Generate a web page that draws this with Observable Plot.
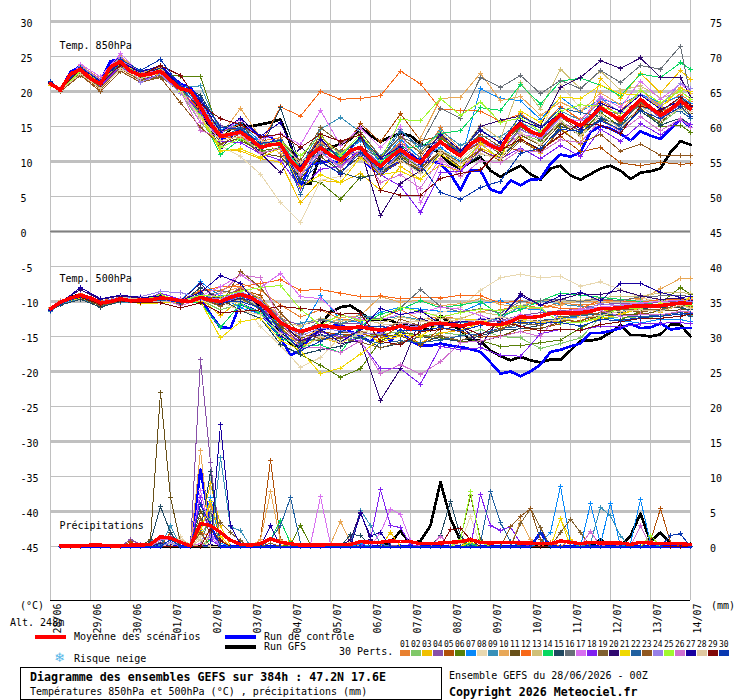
<!DOCTYPE html>
<html><head><meta charset="utf-8">
<script src="https://cdn.jsdelivr.net/npm/d3@7"></script>
<script src="https://cdn.jsdelivr.net/npm/@observablehq/plot@0.6"></script>
<style>
body{margin:0;background:#fff;font-family:"DejaVu Sans Mono",monospace;font-size:10px;color:#000;width:740px;height:700px;position:relative;overflow:hidden}
.a{position:absolute;white-space:pre;line-height:12px;color:#000}
.s{position:absolute}
.b{font-weight:bold;font-size:11.6px}
svg{display:block}
</style></head><body>
<div id="chart"></div>
<script>
const dayLabels=["28/06","29/06","30/06","01/07","02/07","03/07","04/07","05/07","06/07","07/07","08/07","09/07","10/07","11/07","12/07","13/07","14/07"];
const dayHours=[0,24,48,72,96,120,144,168,192,216,240,264,288,312,336,360,384];
const thinLevels=[25,15,5,-5,-15,-25,-35,-45];
const thickLevels=[30,20,10,-10,-20,-30,-40];
const leftTicks=[30,25,20,15,10,5,0,-5,-10,-15,-20,-25,-30,-35,-40,-45];
const pertColors=["#e88030","#80c868","#f0c000","#8850a8","#b05008","#588008","#0888f8","#e8d8b0","#3890b8","#e8a858","#685018","#f86818","#d0c078","#08d860","#204860","#687078","#d870f0","#8020f0","#806030","#300870","#f0d800","#2060a0","#905820","#9880e8","#a0f830","#d070d0","#1800a0","#e0c8a0","#800808","#0838b0"];
// 6-hourly step numbers at which the members are read
const memberSteps=[0,1,3,5,7,9,11,13,15,17,19,21,23,25,27,29,31,33,35,37,39,41,43,45,47,49,51,53,55,57,59,61,63,64];

const mean850=[21.1,20.2,22.5,23.2,21.8,21.1,23.5,24.3,22.9,22.3,22.5,22.9,21.6,20.4,20.1,17.8,15.4,13.6,13.9,14.2,13.2,12.0,12.4,12.5,10.1,8.7,10.9,12.0,10.9,10.2,11.6,12.0,10.4,9.3,10.6,11.7,10.6,9.8,11.6,12.8,11.7,10.8,12.5,13.3,12.3,11.7,14.2,15.4,14.3,13.7,15.4,16.7,15.8,15.1,16.3,17.7,16.8,15.9,17.5,18.9,17.7,16.6,17.4,18.7,17.5];
const control850=[21.3,20.2,22.8,23.6,22.3,21.6,24.3,24.7,23.2,22.9,23.0,23.6,22.3,21.1,20.5,18.7,16.3,13.2,13.7,14.7,14.7,13.5,13.6,12.0,9.2,6.3,9.7,9.8,10.1,9.7,11.3,10.6,9.2,8.2,9.2,10.1,10.9,9.8,10.1,9.7,8.2,5.9,8.7,8.7,6.0,5.5,7.3,6.6,7.4,7.5,9.7,11.0,10.7,11.3,14.2,15.1,14.7,14.0,13.0,14.3,13.7,13.2,14.7,16.1,14.9];
const gfs850=[21.2,20.2,22.6,23.0,21.9,21.0,23.6,24.2,22.8,22.4,22.4,23.0,21.5,20.3,20.0,17.2,14.8,13.1,14.6,15.4,15.0,15.3,15.6,16.0,12.5,7.0,6.8,11.0,12.0,12.5,13.2,14.9,13.7,12.8,13.5,14.0,13.7,12.5,12.0,11.1,9.7,9.0,9.9,10.6,8.7,7.8,8.7,9.4,8.2,7.4,9.0,9.4,8.0,7.4,8.2,9.0,9.4,8.7,7.5,8.4,8.6,9.0,11.3,12.9,12.4];

const mean500=[-11.05,-10.1,-9.5,-9.1,-9.5,-10.2,-10,-9.6,-9.9,-9.8,-9.8,-9.5,-9.6,-9.9,-10,-9.4,-9.8,-10,-9.4,-9,-9.4,-10.3,-11.5,-13,-13.8,-14.3,-13.9,-13.4,-13.6,-13.8,-13.8,-13.6,-13.9,-14.1,-13.9,-13.5,-13.9,-13.8,-13.2,-13.1,-13.3,-13.5,-13.2,-13,-13.3,-13.3,-12.9,-12.2,-12.3,-12.1,-11.7,-11.6,-11.6,-11.6,-11.4,-11,-11,-10.9,-10.7,-10.6,-10.6,-10.6,-10.4,-10.2,-10.3];
const control500=[-11.2,-10.2,-9.6,-9.2,-9.7,-10.3,-10.1,-9.5,-9.8,-9.9,-9.7,-9.6,-9.7,-10,-9.9,-9.5,-11.8,-13.7,-13.8,-10.3,-11,-11.6,-13.4,-15.1,-17.7,-17,-15.1,-14,-13.6,-13.2,-14.3,-14.9,-15.8,-14.1,-15.6,-14.1,-15.6,-16.3,-16.3,-16,-16.3,-16.5,-16.8,-17.2,-18.7,-20.3,-20,-20.7,-20,-19,-17.2,-16.9,-16.4,-16,-14.5,-14.5,-14.2,-13.8,-13.2,-13.8,-13.7,-13.1,-14,-13.8,-13.8];
const gfs500=[-11.1,-10.1,-9.4,-9,-9.5,-10.2,-9.9,-9.6,-9.9,-9.8,-9.7,-9.5,-9.7,-9.9,-10,-9.3,-9.7,-10.1,-9.3,-8.8,-9.5,-10.6,-12,-14.5,-16,-16.5,-15,-13.4,-11.5,-10.8,-10.6,-11.5,-12.7,-12.5,-12.7,-13.4,-13.5,-13.7,-14.1,-12,-13.2,-14.1,-15.6,-15.6,-17,-17.8,-18.4,-17.9,-18.4,-18.7,-18.3,-18.3,-17,-15.6,-15.6,-15.3,-14.4,-13.4,-14.8,-14.8,-15,-14.7,-13.3,-13.3,-15];

const t850p01=[21.0,20.4,23.7,21.8,24.9,22.6,23.0,20.6,17.5,14.3,15.3,12.9,13.4,9.3,12.8,11.3,13.1,9.9,12.8,10.6,14.8,11.6,14.5,12.6,16.6,14.8,17.9,16.0,18.6,17.2,20.2,17.9,19.6,18.6];
const t850p02=[21.0,20.1,22.9,20.9,23.7,22.0,22.6,19.9,15.6,12.5,13.4,11.3,11.8,8.1,11.2,9.4,11.3,8.6,10.9,8.9,11.7,9.8,12.5,10.4,14.0,12.9,15.9,13.6,16.1,14.5,17.5,15.4,17.6,16.5];
const t850p03=[20.9,20.2,23.0,21.0,24.0,22.4,22.4,20.0,16.8,11.6,11.5,10.4,9.9,4.1,7.3,7.0,8.3,5.9,9.3,7.5,9.5,8.6,11.9,10.6,13.4,11.2,14.8,12.4,21.9,19.0,22.6,19.8,23.0,21.7];
const t850p04=[21.2,20.3,23.4,21.4,24.6,22.4,23.2,20.9,18.9,15.1,14.7,12.7,12.6,9.1,11.5,10.0,12.2,9.6,12.5,10.1,13.5,11.0,12.9,11.1,14.6,13.2,15.6,14.4,17.4,15.7,18.5,16.2,18.1,17.2];
const t850p05=[21.1,20.0,22.4,20.3,23.2,21.6,22.3,19.8,17.7,13.6,13.4,11.8,13.2,9.6,13.4,11.4,15.4,12.8,16.8,13.0,13.6,11.0,12.7,12.3,11.5,11.7,13.6,11.4,12.0,9.8,9.4,9.9,9.6,9.7];
const t850p06=[21.2,20.2,23.1,21.2,24.1,22.5,22.3,22.2,22.2,13.6,13.0,11.5,12.0,7.4,7.0,4.6,7.8,8.2,11.0,9.0,13.3,11.5,13.5,11.0,15.0,13.0,15.5,14.0,17.0,15.0,17.7,15.0,15.2,14.2];
const t850p07=[21.2,20.3,23.3,21.5,24.5,22.9,23.3,20.6,18.3,14.5,15.5,12.8,12.9,7.9,11.2,10.6,13.0,9.9,13.2,10.4,12.0,10.0,20.4,19.0,18.7,16.0,19.2,17.1,18.9,18.2,19.6,18.4,19.3,18.3];
const t850p08=[21.0,20.3,23.0,20.6,23.0,21.4,22.2,19.9,16.2,12.3,10.7,8.2,4.1,1.3,7.3,7.9,10.4,8.3,10.6,9.0,11.6,10.4,12.6,11.4,17.0,14.0,21.0,17.6,17.9,16.0,20.4,17.2,19.0,18.0];
const t850p09=[21.1,20.2,23.2,21.2,24.2,22.2,22.7,20.6,20.8,14.2,14.9,12.6,12.2,9.2,14.6,16.3,14.2,10.7,14.6,11.6,14.4,12.3,13.6,13.5,15.6,14.2,17.2,15.9,17.2,16.8,17.8,17.0,19.2,17.4];
const t850p10=[21.0,20.5,23.8,21.6,25.1,22.6,23.5,20.3,17.1,13.7,17.6,13.4,11.1,8.0,12.8,9.7,11.4,8.9,10.5,13.3,19.0,19.2,22.6,18.7,19.3,16.6,18.5,17.1,19.8,18.1,19.5,18.2,20.6,19.7];
const t850p11=[21.1,20.1,22.7,20.7,23.4,21.7,22.4,20.1,17.2,12.6,13.3,11.2,10.7,7.6,10.7,8.6,10.7,8.2,10.8,8.6,11.4,9.2,11.6,10.4,13.8,12.3,15.4,13.7,16.1,14.4,17.4,15.6,17.9,16.8];
const t850p12=[21.2,20.3,23.2,21.2,24.5,22.1,22.6,20.2,17.3,13.5,13.5,12.4,17.8,16.5,20.0,18.9,19.0,19.4,22.9,21.1,17.5,17.3,17.2,15.7,16.8,14.8,17.9,15.9,18.5,16.4,18.1,17.0,18.5,17.7];
const t850p13=[21.1,20.2,23.3,21.3,24.4,22.3,23.2,20.5,18.7,13.9,14.4,12.4,13.1,9.5,13.0,11.2,13.3,10.6,13.4,11.4,14.2,11.4,15.2,13.2,21.3,17.5,23.2,20.4,22.9,20.2,20.8,19.1,19.9,19.1];
const t850p14=[21.0,20.2,23.5,21.4,24.2,22.4,22.9,20.2,16.6,11.0,13.2,12.2,13.0,8.9,12.2,10.7,13.6,10.0,12.0,12.1,14.0,14.4,17.7,17.3,21.0,18.2,21.5,21.9,20.9,19.4,22.5,22.0,24.1,23.2];
const t850p15=[21.2,20.3,23.1,21.2,24.1,22.1,22.8,20.5,19.5,14.8,15.6,11.7,17.7,9.4,11.7,8.4,7.6,8.3,10.4,8.5,11.1,9.0,11.0,10.6,13.2,11.7,15.0,14.2,16.1,15.3,17.2,15.2,16.2,15.3];
const t850p16=[21.1,20.2,23.0,21.0,24.1,22.1,22.6,20.3,18.0,13.4,14.1,12.4,13.2,9.8,12.4,11.5,12.1,10.4,13.5,12.3,17.6,16.2,22.0,20.6,22.3,19.7,21.6,20.4,23.0,21.3,23.7,23.2,26.5,19.2];
const t850p17=[21.1,20.4,23.9,22.1,25.4,22.6,22.9,20.3,15.6,14.0,16.0,13.1,14.0,12.4,17.3,12.3,14.8,12.0,15.0,4.1,9.8,8.7,12.4,11.6,13.9,13.4,16.2,15.8,19.3,17.7,21.5,18.9,21.1,20.0];
const t850p18=[21.0,20.2,22.8,20.8,23.6,21.6,22.4,20.0,17.0,12.9,12.7,11.1,10.2,6.2,8.9,9.3,11.8,8.1,6.5,2.7,8.4,8.6,11.6,10.4,11.9,10.4,12.3,10.7,14.6,12.9,15.4,13.8,15.9,15.3];
const t850p19=[21.1,20.1,22.6,20.6,23.4,21.6,22.1,20.1,18.0,14.4,14.7,11.8,12.8,10.1,14.8,12.7,14.2,10.6,13.6,11.2,13.7,11.3,13.9,12.1,15.1,13.6,16.4,14.3,18.0,15.4,18.4,16.6,18.2,17.2];
const t850p20=[21.2,20.4,23.4,21.3,24.3,22.4,23.3,20.6,17.6,11.8,14.8,11.2,8.4,12.0,10.1,8.2,11.8,2.3,6.9,8.7,12.9,11.2,15.0,15.9,16.5,15.1,20.6,22.0,24.4,23.3,24.8,22.0,22.0,19.2];
const t850p21=[21.0,20.3,23.3,21.2,24.4,22.3,22.8,20.1,16.4,11.5,11.8,10.6,11.9,6.4,8.1,7.0,10.6,8.1,8.6,7.4,11.1,9.1,12.6,10.2,17.2,15.6,19.2,19.0,20.9,19.7,19.5,17.7,20.4,20.0];
const t850p22=[21.3,20.2,23.2,21.1,23.9,22.4,23.1,20.4,17.8,13.4,14.8,12.1,12.4,5.3,12.1,11.0,13.2,10.3,14.3,12.1,12.9,11.5,14.6,12.6,16.6,14.8,17.6,17.0,16.4,15.0,18.9,16.9,17.2,16.2];
const t850p23=[21.0,20.0,22.3,20.0,22.9,21.3,22.0,18.4,14.9,12.4,14.0,11.1,11.9,8.8,14.0,9.8,11.3,8.2,10.0,9.0,11.5,9.8,11.7,10.1,13.0,11.3,14.5,12.6,13.9,11.5,12.5,10.9,10.8,10.9];
const t850p24=[21.1,20.3,23.6,21.7,24.9,21.3,22.5,19.7,18.4,13.4,13.9,12.3,12.5,8.8,11.4,9.3,11.0,8.4,11.2,9.2,12.6,10.9,13.3,12.0,14.5,13.3,16.3,15.2,19.0,17.0,19.6,17.9,21.2,20.4];
const t850p25=[21.0,20.1,22.9,21.0,23.9,22.1,23.1,20.0,16.5,12.0,13.3,11.8,12.8,10.8,13.7,10.9,13.9,10.2,16.0,15.8,19.0,16.6,18.5,15.6,16.2,14.3,17.2,18.1,17.9,16.8,20.2,18.4,20.1,18.9];
const t850p26=[21.1,20.4,23.5,21.6,24.7,22.6,23.0,20.1,14.4,13.5,13.9,11.2,11.9,8.0,11.3,9.1,11.6,7.0,8.1,6.2,10.5,7.8,10.1,9.8,11.7,11.3,13.1,12.7,15.9,14.3,16.4,14.4,16.1,14.9];
const t850p27=[21.3,20.3,23.4,21.5,24.2,22.8,23.7,20.7,18.7,14.2,16.2,13.6,15.6,9.3,13.2,10.3,13.5,10.5,12.1,10.2,13.9,11.6,14.4,12.7,15.9,14.8,16.9,14.6,18.3,17.2,19.5,17.5,18.6,17.8];
const t850p28=[21.0,20.2,22.5,20.4,23.3,21.8,22.7,20.2,16.3,13.0,13.6,12.9,12.7,9.9,11.7,10.2,11.7,8.9,10.2,8.3,11.3,9.7,11.1,10.4,14.1,12.4,15.8,13.6,16.7,14.7,17.9,15.9,17.6,17.1];
const t850p29=[21.1,20.3,23.2,21.0,23.8,22.3,23.7,22.3,18.2,16.1,15.3,13.5,13.9,12.0,13.9,12.9,13.8,5.9,5.2,5.2,7.6,8.3,8.8,11.6,13.2,11.6,13.8,15.4,15.2,14.0,17.9,17.2,19.2,18.0];
const t850p30=[21.4,20.3,23.5,21.4,24.6,23.0,24.6,20.7,19.0,14.9,14.6,12.6,13.0,7.0,9.9,8.3,11.3,8.8,11.3,9.6,5.6,4.6,6.3,7.2,11.2,11.9,14.6,14.3,15.8,14.6,17.3,16.1,17.8,16.5];
const members850=[t850p01,t850p02,t850p03,t850p04,t850p05,t850p06,t850p07,t850p08,t850p09,t850p10,t850p11,t850p12,t850p13,t850p14,t850p15,t850p16,t850p17,t850p18,t850p19,t850p20,t850p21,t850p22,t850p23,t850p24,t850p25,t850p26,t850p27,t850p28,t850p29,t850p30];

const t500p01=[-10.9,-9.9,-8.9,-9.9,-9.4,-9.5,-9.4,-9.8,-8.4,-8.4,-7.4,-8.4,-10.5,-12.2,-11.2,-12.5,-12.8,-12.4,-11.2,-12.6,-12.1,-12.5,-11.4,-11.2,-10.5,-10.9,-10.2,-10.5,-10.3,-9.8,-9.5,-10.0,-9.7,-9.6];
const t500p02=[-11.1,-10.2,-9.4,-10.4,-9.7,-10.0,-9.7,-10.0,-9.8,-11.2,-10.3,-11.6,-14.0,-15.8,-15.4,-15.6,-15.2,-14.7,-14.3,-15.1,-14.4,-14.8,-14.0,-15.0,-15.2,-16.7,-16.0,-15.2,-12.3,-12.2,-12.4,-12.1,-11.5,-12.0];
const t500p03=[-11.0,-10.1,-9.3,-10.3,-9.7,-9.9,-9.6,-9.7,-9.6,-12.0,-9.7,-10.9,-13.6,-16.5,-15.1,-16.0,-14.3,-15.8,-14.9,-15.9,-14.5,-14.1,-13.1,-13.6,-12.9,-13.0,-12.8,-12.0,-11.1,-11.7,-11.1,-11.5,-10.5,-10.9];
const t500p04=[-11.2,-10.3,-9.2,-10.4,-9.6,-9.7,-9.3,-10.1,-9.7,-9.8,-8.0,-9.8,-12.4,-13.4,-12.7,-13.1,-13.2,-13.9,-13.0,-13.5,-13.3,-12.8,-13.0,-12.7,-12.0,-11.6,-11.3,-11.1,-10.4,-10.3,-10.4,-10.1,-9.9,-10.1];
const t500p05=[-11.1,-10.2,-9.0,-10.3,-9.8,-10.0,-9.7,-9.8,-9.5,-9.4,-8.3,-9.1,-13.4,-15.9,-14.3,-14.7,-14.6,-15.3,-13.4,-16.3,-13.8,-14.3,-15.1,-14.9,-14.3,-13.8,-13.2,-12.7,-11.9,-12.1,-11.7,-12.2,-11.4,-11.7];
const t500p06=[-11.0,-10.0,-9.0,-10.5,-9.5,-10.1,-9.3,-9.8,-8.6,-10.6,-8.9,-9.5,-13.8,-17.6,-19.1,-20.8,-19.6,-15.6,-14.4,-14.8,-15.2,-15.7,-15.6,-16.4,-16.3,-15.9,-15.5,-13.8,-12.3,-12.6,-11.4,-10.2,-8.0,-9.0];
const t500p07=[-11.2,-10.2,-9.1,-10.1,-9.4,-9.6,-9.5,-9.9,-7.2,-9.2,-10.9,-11.8,-13.1,-14.2,-9.2,-12.6,-13.0,-11.5,-10.8,-11.1,-11.4,-11.5,-10.3,-9.9,-11.0,-11.2,-12.3,-12.3,-12.1,-12.7,-13.1,-12.5,-12.6,-12.9];
const t500p08=[-11.1,-10.0,-9.6,-10.6,-9.3,-9.3,-9.8,-9.8,-9.9,-10.5,-9.9,-13.6,-16.3,-19.4,-18.0,-15.0,-14.7,-13.4,-13.1,-12.7,-11.6,-10.8,-8.4,-6.6,-6.1,-6.6,-6.4,-7.8,-7.2,-8.3,-9.4,-10.1,-9.5,-9.6];
const t500p09=[-11.4,-10.4,-9.6,-10.6,-10.1,-10.2,-9.6,-10.1,-9.2,-10.5,-9.4,-11.2,-13.6,-13.1,-12.5,-13.2,-11.9,-12.5,-12.1,-12.6,-13.6,-13.0,-13.0,-12.4,-10.7,-9.9,-10.4,-10.7,-10.9,-11.4,-11.1,-11.3,-10.6,-11.5];
const t500p10=[-10.9,-9.9,-8.9,-10.1,-9.6,-9.7,-9.5,-9.6,-9.3,-8.9,-7.9,-9.6,-12.1,-15.4,-13.9,-12.3,-12.0,-9.3,-10.1,-9.8,-10.6,-10.3,-9.6,-10.4,-10.9,-11.0,-10.5,-9.9,-10.1,-10.0,-9.7,-8.2,-6.7,-6.7];
const t500p11=[-11.1,-10.1,-9.5,-10.6,-9.8,-10.1,-9.8,-10.0,-9.6,-10.6,-9.5,-11.1,-13.6,-15.1,-15.6,-14.4,-14.4,-14.9,-14.9,-16.1,-14.9,-15.8,-15.7,-15.0,-13.8,-13.9,-12.9,-13.0,-12.0,-11.9,-11.9,-11.3,-11.2,-11.1];
const t500p12=[-11.0,-10.0,-8.9,-10.3,-9.7,-9.6,-9.3,-9.8,-8.5,-7.9,-7.9,-7.4,-6.9,-8.4,-8.3,-8.8,-9.3,-9.2,-9.6,-9.4,-9.5,-9.1,-9.2,-10.2,-9.9,-10.5,-11.0,-11.0,-9.8,-9.9,-10.1,-9.7,-9.8,-9.7];
const t500p13=[-11.0,-10.2,-9.2,-10.1,-9.4,-9.7,-9.4,-9.8,-9.3,-10.2,-9.3,-10.8,-12.9,-13.5,-12.4,-12.8,-12.6,-13.1,-12.2,-12.8,-12.4,-12.4,-11.5,-12.0,-10.6,-9.8,-10.0,-9.9,-9.4,-9.3,-9.2,-8.8,-8.7,-8.9];
const t500p14=[-11.1,-10.2,-9.3,-10.4,-9.9,-10.1,-9.6,-10.2,-10.2,-13.7,-10.4,-11.7,-15.2,-16.4,-16.2,-17.3,-13.5,-11.8,-11.1,-9.9,-10.9,-10.5,-10.0,-12.0,-11.2,-9.9,-8.8,-9.1,-9.4,-9.7,-10.0,-10.6,-10.1,-10.3];
const t500p15=[-11.3,-10.5,-9.7,-10.8,-10.0,-10.2,-9.7,-10.3,-8.0,-9.6,-11.3,-12.4,-16.1,-17.6,-16.9,-16.4,-15.0,-16.6,-16.0,-15.0,-15.4,-15.6,-14.9,-14.1,-13.9,-13.4,-12.4,-12.0,-11.8,-11.5,-11.0,-10.8,-10.9,-11.2];
const t500p16=[-11.0,-10.1,-9.1,-10.2,-9.5,-9.8,-9.5,-9.7,-9.4,-8.5,-8.9,-10.0,-12.4,-14.9,-12.6,-13.3,-12.3,-12.4,-10.9,-8.3,-10.7,-11.5,-11.0,-11.6,-10.0,-9.8,-9.7,-10.0,-9.6,-9.9,-9.3,-9.2,-9.1,-9.3];
const t500p17=[-11.1,-10.2,-9.0,-10.1,-9.5,-9.9,-9.3,-9.6,-9.2,-7.9,-6.2,-8.0,-6.0,-9.3,-9.6,-11.9,-12.5,-12.6,-11.8,-11.6,-10.8,-11.1,-12.0,-13.0,-11.9,-12.1,-11.6,-11.2,-10.8,-10.5,-10.2,-10.0,-9.8,-9.9];
const t500p18=[-11.1,-10.1,-9.3,-10.5,-9.6,-10.0,-8.8,-9.7,-9.7,-10.3,-9.2,-10.3,-14.3,-15.6,-14.4,-15.0,-15.7,-19.6,-19.6,-21.8,-16.4,-16.9,-16.6,-17.7,-17.8,-14.6,-14.0,-14.1,-13.5,-13.6,-13.2,-13.1,-13.0,-13.2];
const t500p19=[-11.0,-10.1,-9.4,-10.3,-9.8,-10.2,-9.6,-10.4,-9.4,-10.4,-9.6,-10.9,-13.9,-15.9,-14.2,-15.3,-15.8,-16.6,-15.8,-15.0,-14.9,-15.6,-14.6,-14.0,-13.1,-13.4,-12.2,-11.9,-11.6,-11.2,-11.1,-11.2,-10.3,-10.7];
const t500p20=[-11.0,-10.0,-8.3,-9.7,-9.2,-9.5,-9.1,-9.9,-7.4,-10.4,-9.5,-10.2,-12.8,-15.6,-14.7,-16.0,-15.6,-24.1,-19.6,-12.4,-13.5,-13.4,-16.2,-12.4,-8.9,-10.5,-9.7,-8.9,-9.0,-8.4,-9.2,-9.7,-9.5,-9.9];
const t500p21=[-11.0,-10.2,-9.5,-10.3,-9.8,-10.3,-10.2,-10.2,-10.0,-15.2,-12.9,-12.4,-15.5,-17.0,-20.3,-19.5,-17.5,-15.3,-14.7,-15.0,-13.0,-12.5,-12.6,-13.6,-12.4,-13.2,-12.3,-13.0,-12.4,-11.9,-10.9,-10.3,-10.2,-9.4];
const t500p22=[-11.2,-10.3,-9.3,-10.4,-9.8,-10.0,-9.8,-10.1,-8.9,-10.1,-9.2,-11.1,-14.7,-16.1,-14.9,-14.7,-15.3,-16.0,-15.6,-15.9,-15.5,-14.9,-14.6,-13.8,-13.6,-12.7,-12.4,-12.0,-11.8,-12.0,-12.2,-11.9,-11.6,-12.1];
const t500p23=[-11.1,-10.3,-9.2,-10.6,-9.9,-9.9,-9.6,-10.2,-9.6,-10.7,-5.7,-8.0,-11.6,-14.6,-15.3,-15.2,-14.3,-14.9,-12.5,-13.5,-12.1,-13.4,-12.9,-13.9,-12.7,-12.8,-12.6,-12.9,-11.5,-11.1,-11.5,-11.1,-10.7,-10.5];
const t500p24=[-11.0,-10.0,-9.0,-10.0,-9.4,-9.3,-8.6,-8.7,-9.6,-9.6,-8.6,-9.8,-12.9,-14.9,-13.8,-14.2,-14.6,-14.5,-13.3,-13.7,-13.3,-13.6,-12.4,-12.8,-12.4,-12.2,-11.4,-11.4,-10.3,-10.6,-10.3,-10.6,-9.9,-10.0];
const t500p25=[-11.1,-10.3,-9.2,-10.2,-9.5,-9.9,-9.0,-9.9,-9.1,-9.3,-8.5,-8.0,-7.7,-11.1,-13.4,-11.9,-12.7,-12.5,-10.8,-11.4,-12.2,-11.6,-11.1,-11.3,-10.7,-10.9,-13.1,-13.0,-12.2,-10.9,-11.0,-10.4,-10.4,-10.6];
const t500p26=[-11.0,-10.1,-9.1,-10.1,-9.7,-9.8,-9.5,-10.6,-9.7,-8.8,-6.2,-6.6,-12.8,-16.6,-16.6,-17.3,-15.6,-20.3,-19.0,-20.4,-18.6,-15.9,-15.6,-15.0,-14.3,-15.0,-11.5,-11.0,-11.3,-12.1,-11.9,-11.9,-11.4,-11.5];
const t500p27=[-11.3,-10.2,-8.0,-9.6,-9.1,-9.4,-9.3,-9.9,-8.7,-6.3,-7.4,-11.2,-14.9,-16.5,-14.0,-15.8,-14.0,-11.0,-11.9,-11.3,-13.2,-12.9,-12.6,-12.3,-9.2,-10.5,-9.2,-8.7,-9.9,-7.4,-7.4,-8.7,-9.4,-9.3];
const t500p28=[-11.0,-10.2,-9.3,-10.3,-9.4,-9.7,-9.6,-9.8,-9.6,-10.0,-11.3,-11.9,-14.6,-16.9,-15.0,-15.9,-14.5,-13.4,-13.1,-12.8,-12.9,-12.6,-12.8,-12.2,-12.6,-12.9,-12.6,-12.3,-12.0,-11.4,-11.2,-11.4,-10.5,-11.0];
const t500p29=[-11.2,-10.1,-9.4,-10.4,-9.9,-10.2,-10.2,-10.9,-10.2,-11.6,-11.4,-11.2,-10.7,-11.0,-11.2,-11.8,-11.7,-15.7,-16.2,-14.3,-14.0,-13.5,-14.8,-12.9,-13.5,-14.2,-14.0,-14.1,-13.3,-12.9,-12.4,-12.4,-12.1,-11.8];
const t500p30=[-11.2,-10.3,-9.3,-10.2,-9.6,-9.8,-9.6,-10.2,-9.6,-10.1,-10.0,-10.9,-14.0,-17.0,-15.7,-14.3,-13.5,-13.5,-14.2,-14.2,-13.7,-14.2,-13.4,-13.0,-13.0,-13.1,-13.0,-13.5,-12.6,-12.7,-12.3,-12.1,-11.8,-11.7];
const members500=[t500p01,t500p02,t500p03,t500p04,t500p05,t500p06,t500p07,t500p08,t500p09,t500p10,t500p11,t500p12,t500p13,t500p14,t500p15,t500p16,t500p17,t500p18,t500p19,t500p20,t500p21,t500p22,t500p23,t500p24,t500p25,t500p26,t500p27,t500p28,t500p29,t500p30];

// precipitation: every step is 0 mm except the [step, mm] pairs listed per member
const rain=[
[[15,2.5],[16,6],[17,1],[30,.6],[52,.9]],
[[8,.3],[15,1.5],[16,4],[17,.8],[22,.5],[41,.6]],
[[15,3],[16,9],[17,3],[24,.8],[34,2],[51,4],[52,1]],
[[8,1],[9,.3],[11,1],[12,1.5],[15,26.7],[16,12],[17,.5],[34,.2]],
[[8,.7],[12,2],[15,5],[16,3],[21,1],[22,12.3],[23,1],[42,.6],[60,.8],[61,5.4],[62,.6]],
[[15,2],[24,.3],[25,3],[26,.2],[42,1]],
[[11,.4],[15,2],[16,7],[17,.5],[31,.4],[49,.5],[50,2],[51,8.6],[52,.5],[54,6.1],[55,.4],[56,6.2],[58,.5],[59,6.7],[60,.5]],
[[12,.4],[13,1.4],[15,1.5],[16,2],[41,.5],[42,4.3]],
[[10,1],[12,3],[17,12.7],[18,2.8],[19,2.3],[30,.5],[31,5.2],[32,3],[33,.4],[54,.5],[55,5.6],[56,4.4],[57,1.5]],
[[15,13.7],[16,1],[21,1],[22,7.8],[23,.8],[28,.3],[29,3.6],[30,.6],[47,3.7],[48,1]],
[[10,1],[11,22],[12,7],[13,.5],[15,5],[16,3],[41,1],[42,7.3],[43,1]],
[[15,2],[16,1.5],[50,.6]],
[[13,1],[14,.3],[16,1.5]],
[[16,1],[22,1],[23,3.7],[24,.5],[42,.4]],
[[10,.7],[11,5.7],[12,2],[15,2],[16,10.7],[30,1.7],[31,1.6],[39,1.6],[40,6.4],[41,1.5]],
[[11,.6],[16,5]],
[[15,8],[16,2],[26,.3],[27,7.1],[28,.3],[33,2],[34,5.3],[35,4.6],[36,.8],[39,1.4]],
[[15,7],[16,1],[32,1],[33,8.1],[34,3],[35,2.7],[36,.3],[43,7.4],[44,3],[45,2.3],[46,2.8],[47,.5]],
[[15,4],[16,2],[17,3.4],[18,2],[19,.8],[47,3.3],[48,5.4],[49,2.7],[51,2],[52,3.9],[53,2]],
[[11,.5],[15,1],[30,1],[31,4.9],[32,1]],
[[15,2.2],[16,6.5],[17,1.5],[42,.7],[51,4]],
[[11,1],[22,1],[23,3],[24,7],[25,.5],[43,.5],[44,7.8],[45,3.4],[46,.7]],
[[15,2],[22,.5],[46,2.8],[47,4.3],[48,5.4],[49,1]],
[[12,.6],[15,1],[16,1.5]],
[[13,1],[15,.5],[41,1],[42,7.8],[43,.6],[60,1.6]],
[[11,1],[12,1],[14,.1],[15,.4],[39,1.5],[54,2.2],[56,.5],[59,3]],
[[16,.3],[17,17.4],[18,3],[19,.3],[22,3],[31,4.7],[32,1.5],[33,2]],
[[13,1],[15,1]],
[[14,.1],[16,2.5],[17,.8],[40,2.4],[41,2.6],[42,1]],
[[12,1],[15,6],[16,3],[49,2],[62,1.6],[63,1.8]]
];
const controlRain=[[12,.4],[15,11],[16,3],[49,2]];
const gfsRain=[[34,.6],[35,2.2],[36,.4],[37,.8],[38,3],[39,9.2],[40,4],[41,.8],[55,1],[58,1.5],[59,4.7],[60,.7],[61,2],[62,.5],[64,.4]];
const meanRain=[.1,.1,.1,.2,.2,.1,.1,.2,.2,.3,1.4,1.2,.6,.1,3.3,3,2,.9,.3,.2,.4,1.1,.6,.4,.2,.2,.2,.3,.3,.3,.7,.6,.6,.8,.7,.7,.4,.4,.5,.6,.7,1,.6,.5,.6,.6,.5,.5,.4,.4,.8,.6,.4,.6,.5,.5,.5,.3,.6,.5,.4,.4,.4,.3];

const panelLabels=[{t:"Temp. 850hPa",h:5.4,v:26.6},{t:"Temp. 500hPa",h:5.4,v:-6.7},{t:"Précipitations",h:5.4,v:-42.1}];

const rainZero=-45, H=6;
const rainSeries=hits=>{const m=new Map(hits);return d3.range(1,65).map(s=>({h:s*H,v:rainZero+(m.get(s)||0)}));};
const full=a=>a.map((v,i)=>({h:i*H,v}));
const coarse=a=>a.map((v,i)=>({h:memberSteps[i]*H,v}));
const membersOf=(series,color)=>[
  Plot.line(series,{x:"h",y:"v",stroke:color,strokeWidth:1}),
  Plot.dot(series,{x:"h",y:"v",stroke:color,symbol:"plus",r:1.7,strokeWidth:1})
];
const thick=(series,color,w)=>Plot.line(series,{x:"h",y:"v",stroke:color,strokeWidth:w,strokeLinejoin:"round"});

const marks=[
  Plot.ruleY(thinLevels,{stroke:"#c0c0c0",strokeWidth:1}),
  Plot.ruleY(thickLevels,{stroke:"#c0c0c0",strokeWidth:2.6}),
  Plot.ruleX(dayHours,{stroke:"#c0c0c0",strokeWidth:1}),
  Plot.ruleY([0],{stroke:"#b8b8b8",strokeWidth:3}),
  Plot.ruleY([0],{stroke:"#808080",strokeWidth:1}),
  Plot.ruleY([-52.71],{stroke:"#000",strokeWidth:1}),
  Plot.axisY({anchor:"left",ticks:leftTicks,tickSize:0,tickPadding:30,textAnchor:"start",dy:2,tickFormat:d=>String(d),label:null}),
  Plot.axisY({anchor:"right",ticks:leftTicks,tickSize:0,tickPadding:19.5,dy:2,tickFormat:d=>String(d+45),label:null}),
  Plot.axisX({ticks:dayHours,tickFormat:h=>dayLabels[dayHours.indexOf(h)],tickRotate:-90,tickSize:0,tickPadding:3,label:null,dx:7}),
  thick(full(gfs850),"#000",2.7),thick(full(control850),"#0000ff",2.7),
  thick(full(gfs500),"#000",2.7),thick(full(control500),"#0000ff",2.7),
  thick(rainSeries(gfsRain),"#000",2.7),thick(rainSeries(controlRain),"#0000ff",2.7),
  ...members850.flatMap((m,i)=>membersOf(coarse(m),pertColors[i])),
  ...members500.flatMap((m,i)=>membersOf(coarse(m),pertColors[i])),
  ...rain.flatMap((m,i)=>membersOf(rainSeries(m),pertColors[i])),
  thick(full(mean850),"#ff0000",3.6),
  thick(full(mean500),"#ff0000",3.6),
  thick(meanRain.map((mm,i)=>({h:(i+1)*H,v:rainZero+mm})),"#ff0000",3.4),
  Plot.text(panelLabels,{x:"h",y:"v",text:"t",textAnchor:"start",fill:"#000"})
];

const chart=Plot.plot({
  width:740,height:640,marginTop:0,marginBottom:40,marginLeft:50,marginRight:50,
  style:{fontFamily:'"DejaVu Sans Mono",monospace',fontSize:"10px",background:"#fff",color:"#000",shapeRendering:"crispEdges"},
  x:{type:"linear",domain:[0,384],range:[50,690],axis:null},
  y:{type:"linear",domain:[-52.71,33],range:[600,0],axis:null},
  marks
});
document.getElementById("chart").appendChild(chart);

// texts and legend below the plot
const add=(cls,style,txt)=>{const e=document.createElement("div");e.className=cls;e.style.cssText=style;if(txt)e.textContent=txt;document.body.appendChild(e);return e;};
add("a","left:20px;top:600px","(°C)");
add("a","left:711px;top:600px;color:#000","(mm)");
add("a","left:10px;top:617px","Alt. 248m");
add("s","left:35px;top:635px;width:31px;height:4px;background:#f00");
add("a","left:74px;top:631px","Moyenne des scénarios");
add("s","left:225px;top:635px;width:31px;height:4px;background:#00f");
add("a","left:264px;top:631px","Run de contrôle");
add("s","left:225px;top:645px;width:31px;height:4px;background:#000");
add("a","left:264px;top:641px","Run GFS");
add("a","left:54px;top:651px;color:#58b8e8;font:13px 'DejaVu Sans';line-height:14px","❄");
add("a","left:74px;top:653px","Risque neige");
add("a","left:339px;top:646px","30 Perts.");
pertColors.forEach((c,i)=>{
  add("s",`left:${400+i*11}px;top:650px;width:10px;height:6px;background:${c}`);
  add("a",`left:${400+i*11}px;top:640px;font-size:8px;line-height:10px`,String(i+1).padStart(2,"0"));
});
add("s","left:20px;top:667px;width:420px;height:31px;border:1px solid #000");
add("a b","left:30px;top:671px","Diagramme des ensembles GEFS sur 384h : 47.2N 17.6E");
add("a","left:30px;top:686px","Températures 850hPa et 500hPa (°C) , précipitations (mm)");
add("a","left:449px;top:670px","Ensemble GEFS du 28/06/2026 - 00Z");
add("a b","left:449px;top:686px","Copyright 2026 Meteociel.fr");
</script>
</body></html>
